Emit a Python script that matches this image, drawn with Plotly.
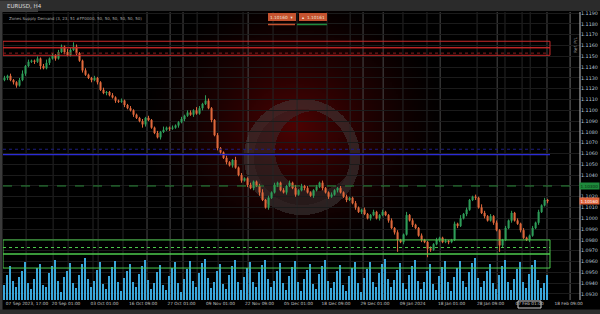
import numpy as np, zlib, struct, base64
import plotly.graph_objects as go

# ---------------- data ----------------
CLOSES = [
    1.1130, 1.1132, 1.1128, 1.1126, 1.1123, 1.1128, 1.1134, 1.1141, 1.1145, 1.1146,
    1.1145, 1.1148, 1.1141, 1.1139, 1.1144, 1.1148, 1.1151, 1.1148, 1.1154, 1.1159,
    1.1154, 1.1151, 1.1156, 1.1159, 1.1153,
    1.1146, 1.1137, 1.1133, 1.1130, 1.1128, 1.1130, 1.1126, 1.1119, 1.1116, 1.1117,
    1.1114, 1.1112, 1.1109, 1.1108, 1.1109, 1.1105, 1.1102, 1.1100, 1.1096, 1.1093,
    1.1090, 1.1087, 1.1093, 1.1091, 1.1084, 1.1079, 1.1075, 1.1080, 1.1082, 1.1084,
    1.1083, 1.1084, 1.1086, 1.1089, 1.1092, 1.1095, 1.1098, 1.1096, 1.1100, 1.1097,
    1.1102,
    1.1106, 1.1109, 1.1102, 1.1091, 1.1077, 1.1065, 1.1061, 1.1056, 1.1052, 1.1049,
    1.1054, 1.1047, 1.1040, 1.1035, 1.1037, 1.1031, 1.1028, 1.1034, 1.1030, 1.1024,
    1.1017, 1.1010, 1.1019, 1.1024, 1.1031, 1.1033, 1.1026, 1.1024, 1.1030, 1.1033,
    1.1028, 1.1022, 1.1026, 1.1030, 1.1028, 1.1024, 1.1021, 1.1026, 1.1029, 1.1033,
    1.1028, 1.1024, 1.1020, 1.1022, 1.1026, 1.1028, 1.1024, 1.1020, 1.1017, 1.1019,
    1.1014, 1.1010, 1.1006, 1.1008, 1.1004, 1.1000, 1.1003, 1.1006, 1.1000, 1.1003,
    1.1006, 1.1003, 1.0998, 1.0991, 1.0987, 1.0980, 1.0978, 1.0985, 1.1003, 1.0998,
    1.0994, 1.0991, 1.0984, 1.0980, 1.0978, 1.0972, 1.0971, 1.0976, 1.0980, 1.0982,
    1.0978, 1.0979, 1.0978, 1.0980, 1.0995, 1.0993, 1.1000, 1.1004, 1.1008, 1.1017,
    1.1020, 1.1019, 1.1010, 1.1005, 1.1002, 1.0998, 1.1002, 1.0996, 1.0989, 1.0975,
    1.0980, 1.0991, 1.0998, 1.1005, 1.0998, 1.0995, 1.0989, 1.0982, 1.0980, 1.0984,
    1.0991, 1.0996, 1.1006, 1.1012, 1.1017, 1.1016,
]
FIRST_OPEN = 1.1128

UP_WICK_PIPS = [
    2,1,2,1,1,2,3,1,2,1, 1,2,1,2,3,1,2,1,2,2, 1,3,2,4,2,1,1,2,1,1,
    2,1,1,2,1,1,2,1,1,2, 1,1,2,1,1,1,2,1,2,1, 1,2,1,3,1,1,2,1,1,2,
    1,2,2,1,3,2,1,5,2,1, 1,2,1,1,2,1,1,3,1,2, 1,1,2,1,1,2,3,1,2,1,
    2,1,1,2,1,2,1,3,1,2, 1,2,1,1,2,1,2,1,1,2, 1,1,2,1,2,1,1,2,1,1,
    2,1,1,2,1,1,2,1,1,2, 1,2,1,1,3,1,2,1,1,2, 1,1,2,1,2,1,1,2,1,1,
    2,1,3,1,2,1,1,2,1,3, 2,1,2,1,2,1,1,2,1,2, 1,2,1,2,1,1,2,1,2,1,
    2,1,
]
DOWN_WICK_PIPS = [
    1,2,1,2,2,1,1,2,1,1, 2,1,3,1,1,2,1,2,1,1, 2,1,1,1,2,1,2,1,1,2,
    1,2,1,1,2,1,1,2,1,1, 2,1,1,2,1,1,3,2,1,1, 1,1,2,1,1,2,1,1,2,1,
    2,1,1,2,1,1,2,1,1,2, 1,2,1,1,2,1,2,1,1,2, 1,2,1,2,1,3,1,1,2,1,
    1,2,1,1,2,1,1,2,1,1, 2,1,1,2,1,1,2,1,2,1, 1,2,1,1,2,1,1,2,1,2,
    1,1,2,1,1,2,1,1,2,1, 2,11,1,2,1,1,2,1,1,2, 1,8,2,1,1,2,1,1,2,1,
    1,2,1,1,2,1,1,2,1,1, 2,1,1,2,1,6,2,1,1,2, 1,1,2,1,1,2,1,1,2,1,
    1,2,
]
VOLUMES = [
    35,60,80,45,30,55,70,90,40,25, 50,75,85,35,30,65,80,95,45,20,
    55,70,88,40,28,60,85,100,50,30, 45,72,90,38,25,58,78,92,42,22,
    52,68,86,44,30,62,82,96,48,26, 40,66,84,36,24,56,76,90,40,20,
    50,74,92,46,32,64,88,98,52,28, 44,70,86,38,26,60,80,94,44,24,
    54,76,90,42,30,66,84,96,50,30, 46,70,88,40,24,58,78,92,44,22,
    50,72,86,38,26,62,80,94,46,28, 42,68,84,36,22,56,76,90,40,20,
    52,74,90,44,30,64,86,98,50,30, 48,72,88,40,26,60,82,96,46,26,
    44,70,86,38,24,58,78,92,42,22, 54,76,92,46,32,66,88,100,52,32,
    46,70,86,40,26,60,80,94,44,24, 50,74,90,42,28,62,84,96,48,28,
    40,60,
]

SUPPLY_BOXES = [(1.1158, 1.1164), (1.1151, 1.1158)]
SUPPLY_MID = 1.1153
DEMAND_BOXES = [(1.0967, 1.0980), (1.0954, 1.0967)]
DEMAND_MID = 1.0973
BLUE_LEVEL = 1.1059
BLUE_DOT_LEVEL = 1.1064
TARGET_LEVEL = 1.1030

TIME_TICK_POS = [7.5, 20.5, 33.3, 46.2, 59, 72, 85, 98, 110.5, 123.5, 136, 149, 162, 175, 188]
TIME_TICK_TEXT = ["07 Sep 2023, 17:00", "20 Sep 01:00", "03 Oct 01:00", "16 Oct 09:00",
                  "27 Oct 01:00", "09 Nov 01:00", "22 Nov 09:00", "05 Dec 01:00",
                  "18 Dec 09:00", "29 Dec 01:00", "09 Jan 2024", "18 Jan 01:00",
                  "28 Jan 09:00", "07 Feb 01:00", "18 Feb 09:00"]

GRID_DIM = [7.2, 16.2, 21.2, 29.5, 31.2, 39.5, 64.2, 71.2, 79.5, 89.5, 97.5, 107.5,
            115.2, 132.8, 140.8, 157.5, 166.8, 172.5, 175.2]
GRID_BRIGHT = [47.5, 55.2, 59.5, 81.2, 119.5, 126.2, 145.2, 164.2, 180.8]

# ---------------- derived OHLC ----------------
N = len(CLOSES)
idx = list(range(N))
opens = [FIRST_OPEN] + CLOSES[:-1]
pip = 0.0001
highs = [max(o, c) + u * pip for o, c, u in zip(opens, CLOSES, UP_WICK_PIPS)]
lows = [min(o, c) - d * pip for o, c, d in zip(opens, CLOSES, DOWN_WICK_PIPS)]

XMIN, XMAX = -0.5, 191.8
YMIN, YMAX = 1.09244, 1.11911
ZONE_END = N - 0.2

# ---------------- images ----------------
def make_png(rgba):
    h, w, _ = rgba.shape
    raw = b''.join(b'\x00' + rgba[r].tobytes() for r in range(h))
    def chunk(t, d):
        c = struct.pack('>I', len(d)) + t + d
        return c + struct.pack('>I', zlib.crc32(t + d) & 0xffffffff)
    png = (b'\x89PNG\r\n\x1a\n' + chunk(b'IHDR', struct.pack('>IIBBBBB', w, h, 8, 6, 0, 0, 0))
           + chunk(b'IDAT', zlib.compress(raw, 9)) + chunk(b'IEND', b''))
    return 'data:image/png;base64,' + base64.b64encode(png).decode()

S = 160
yy, xx = np.mgrid[0:S, 0:S].astype(float)
r = np.sqrt(((xx - (S - 1) / 2) / (S / 2)) ** 2 + ((yy - (S - 1) / 2) / (S / 2)) ** 2)
glow = np.zeros((S, S, 4), dtype=np.uint8)
glow[..., 0] = 125
glow[..., 1] = 4
glow[..., 2] = 4
glow[..., 3] = (np.clip(1 - r, 0, 1) ** 1.4 * 0.62 * 255).astype(np.uint8)
glow_uri = make_png(glow)

L = 120
yy, xx = np.mgrid[0:L, 0:L].astype(float)
c = (L - 1) / 2
rr = np.sqrt((xx - c) ** 2 + (yy - c) ** 2)
logo = np.zeros((L, L, 4), dtype=np.uint8)
ring = (rr <= 58) & (rr >= 48)
r2 = np.sqrt((xx - c - 13) ** 2 + (yy - c + 6) ** 2)
cres = (rr < 48) & (r2 > 40)
logo[ring] = [70, 70, 70, 150]
logo[cres] = [58, 58, 60, 140]
logo_uri = make_png(logo)

# ---------------- figure ----------------
fig = go.Figure()
fig.add_trace(go.Bar(x=idx, y=VOLUMES, marker=dict(color="#3aa7da", line=dict(width=0)),
                     width=0.45, yaxis="y", hoverinfo="skip", showlegend=False))
fig.add_trace(go.Candlestick(x=idx, open=opens, high=highs, low=lows, close=CLOSES,
                             yaxis="y2", showlegend=False,
                             increasing=dict(line=dict(color="#2f9e5a", width=1), fillcolor="#2f9e5a"),
                             decreasing=dict(line=dict(color="#e0693c", width=1), fillcolor="#e0693c")))

shapes = []
for g in GRID_DIM:
    shapes.append(dict(type="line", xref="x", yref="paper", x0=g, x1=g, y0=0, y1=1,
                       line=dict(color="#262626", width=1), layer="below"))
for g in GRID_BRIGHT:
    shapes.append(dict(type="line", xref="x", yref="paper", x0=g, x1=g, y0=0, y1=1,
                       line=dict(color="#484848", width=1), layer="below"))
shapes.append(dict(type="line", xref="x", yref="paper", x0=188.5, x1=188.5, y0=0, y1=1,
                   line=dict(color="#6a6a6a", width=1), layer="below"))
shapes.append(dict(type="line", xref="paper", yref="paper", x0=1, x1=1, y0=0, y1=1,
                   line=dict(color="#c8c8c8", width=1)))

for lo, hi in SUPPLY_BOXES:
    shapes.append(dict(type="rect", xref="x", yref="y2", x0=XMIN, x1=ZONE_END, y0=lo, y1=hi,
                       line=dict(color="#c62828", width=1), fillcolor="rgba(0,0,0,0)"))
shapes.append(dict(type="line", xref="x", yref="y2", x0=XMIN, x1=ZONE_END, y0=SUPPLY_MID, y1=SUPPLY_MID,
                   line=dict(color="#8e1c1c", width=1, dash="dot")))
for lo, hi in DEMAND_BOXES:
    shapes.append(dict(type="rect", xref="x", yref="y2", x0=XMIN, x1=ZONE_END, y0=lo, y1=hi,
                       line=dict(color="#4cc94c", width=1), fillcolor="rgba(0,0,0,0)"))
shapes.append(dict(type="line", xref="x", yref="y2", x0=XMIN, x1=ZONE_END, y0=DEMAND_MID, y1=DEMAND_MID,
                   line=dict(color="#4cc94c", width=1, dash="dot")))
shapes.append(dict(type="line", xref="x", yref="y2", x0=XMIN, x1=ZONE_END, y0=BLUE_LEVEL, y1=BLUE_LEVEL,
                   line=dict(color="#2b2bd6", width=1.2)))
shapes.append(dict(type="line", xref="x", yref="y2", x0=XMIN, x1=ZONE_END, y0=BLUE_DOT_LEVEL, y1=BLUE_DOT_LEVEL,
                   line=dict(color="#1c1c80", width=1, dash="dot")))
shapes.append(dict(type="line", xref="x", yref="y2", x0=XMIN, x1=XMAX, y0=TARGET_LEVEL, y1=TARGET_LEVEL,
                   line=dict(color="#2a8a3a", width=1, dash="dash")))

# chrome: top bar, tab, left strip, bottom strip
def px(xp): return (xp - 3) / 577
def py(yp): return (300 - yp) / 288
shapes += [
    dict(type="rect", xref="paper", yref="paper", x0=px(0), x1=px(600), y0=py(11), y1=py(0),
         fillcolor="#2b2b2b", line=dict(width=0)),
    dict(type="rect", xref="paper", yref="paper", x0=px(0), x1=px(38), y0=py(12), y1=py(1),
         fillcolor="#3d3d3d", line=dict(width=0)),
    dict(type="rect", xref="paper", yref="paper", x0=px(0), x1=px(2.5), y0=py(314), y1=py(11),
         fillcolor="#3a3a3a", line=dict(width=0)),
    dict(type="rect", xref="paper", yref="paper", x0=px(0), x1=px(600), y0=py(314), y1=py(309.5),
         fillcolor="#2d2d2d", line=dict(width=0)),
    dict(type="rect", xref="paper", yref="paper", x0=px(268), x1=px(296), y0=py(21), y1=py(13),
         fillcolor="#c4522f", line=dict(width=0)),
    dict(type="rect", xref="paper", yref="paper", x0=px(299), x1=px(327), y0=py(21), y1=py(13),
         fillcolor="#c4522f", line=dict(width=0)),
    dict(type="line", xref="paper", yref="paper", x0=px(268), x1=px(295), y0=py(24.5), y1=py(24.5),
         line=dict(color="#c4522f", width=1.5)),
    dict(type="line", xref="paper", yref="paper", x0=px(297), x1=px(327), y0=py(24.5), y1=py(24.5),
         line=dict(color="#1f8a3c", width=1.5)),
    dict(type="rect", xref="paper", yref="paper", x0=px(518), x1=px(541), y0=py(308), y1=py(301),
         fillcolor="rgba(0,0,0,0)", line=dict(color="#cfcfcf", width=1)),
]

last = CLOSES[-1]
annotations = [
    dict(x=px(5), y=py(5.5), xref="paper", yref="paper", text="EURUSD, H4", showarrow=False,
         xanchor="left", yanchor="middle", font=dict(size=5.5, color="#dddddd")),
    dict(x=px(7), y=py(18), xref="paper", yref="paper",
         text="Zones Supply Demand (3, 23, 51 #FF0000, 50, 50, 50, 50, 50, 50)",
         showarrow=False, xanchor="left", yanchor="middle", font=dict(size=4, color="#a8a8a8")),
    dict(x=px(282), y=py(17), xref="paper", yref="paper", text=f"{last:.5f}  ▾", showarrow=False,
         xanchor="center", yanchor="middle", font=dict(size=4.3, color="#f0e0d8")),
    dict(x=px(313), y=py(17), xref="paper", yref="paper", text=f"▴  {last + 0.00001:.5f}", showarrow=False,
         xanchor="center", yanchor="middle", font=dict(size=4.3, color="#f0e0d8")),
    dict(x=px(575), y=py(45), xref="paper", yref="paper", text="Ref. P/L", showarrow=False,
         textangle=-90, xanchor="center", yanchor="middle", font=dict(size=4.3, color="#9a9a9a")),
    dict(x=px(579), y=TARGET_LEVEL, xref="paper", yref="y2", text=f"{TARGET_LEVEL:.5f}", showarrow=False,
         xanchor="left", yanchor="middle", bgcolor="#1e8a3c", borderpad=0.5,
         font=dict(size=4.2, color="#0a2a10")),
    dict(x=px(579), y=last, xref="paper", yref="y2", text=f"{last:.5f}", showarrow=False,
         xanchor="left", yanchor="middle", bgcolor="#e0643c", borderpad=0.5,
         font=dict(size=4.2, color="#ffffff")),
]

images = [
    dict(source=glow_uri, xref="paper", yref="paper", x=px(295 - 160), y=py(125 - 140),
         sizex=320 / 577, sizey=280 / 288, sizing="stretch", xanchor="left", yanchor="top",
         layer="below"),
    dict(source=logo_uri, xref="paper", yref="paper", x=px(302 - 60), y=py(157 - 60),
         sizex=120 / 577, sizey=120 / 288, sizing="stretch", xanchor="left", yanchor="top",
         layer="below", opacity=0.8),
]

fig.update_layout(
    width=600, height=314,
    margin=dict(l=3, r=20, t=12, b=14),
    paper_bgcolor="#000000", plot_bgcolor="#000000",
    font=dict(family="DejaVu Sans", color="#b0b0b0"),
    showlegend=False, bargap=0, boxgap=0.5,
    xaxis=dict(range=[XMIN, XMAX], showgrid=False, zeroline=False, rangeslider=dict(visible=False),
               tickmode="array", tickvals=TIME_TICK_POS, ticktext=TIME_TICK_TEXT, ticks="",
               tickangle=0, automargin=False, ticklabelstandoff=0,
               tickfont=dict(size=4.3, color="#c0c0c0"), showline=False),
    yaxis=dict(range=[0, 685], visible=False, showgrid=False, zeroline=False, automargin=False),
    yaxis2=dict(overlaying="y", side="right", range=[YMIN, YMAX], tick0=1.118, dtick=0.001,
                tickformat=".4f", showgrid=True, gridcolor="#1b1b1b", zeroline=False,
                automargin=False, ticks="", tickfont=dict(size=4.8, color="#b9cadb"), showline=False),
    shapes=shapes, annotations=annotations, images=images,
)

fig.write_html("out.html")
